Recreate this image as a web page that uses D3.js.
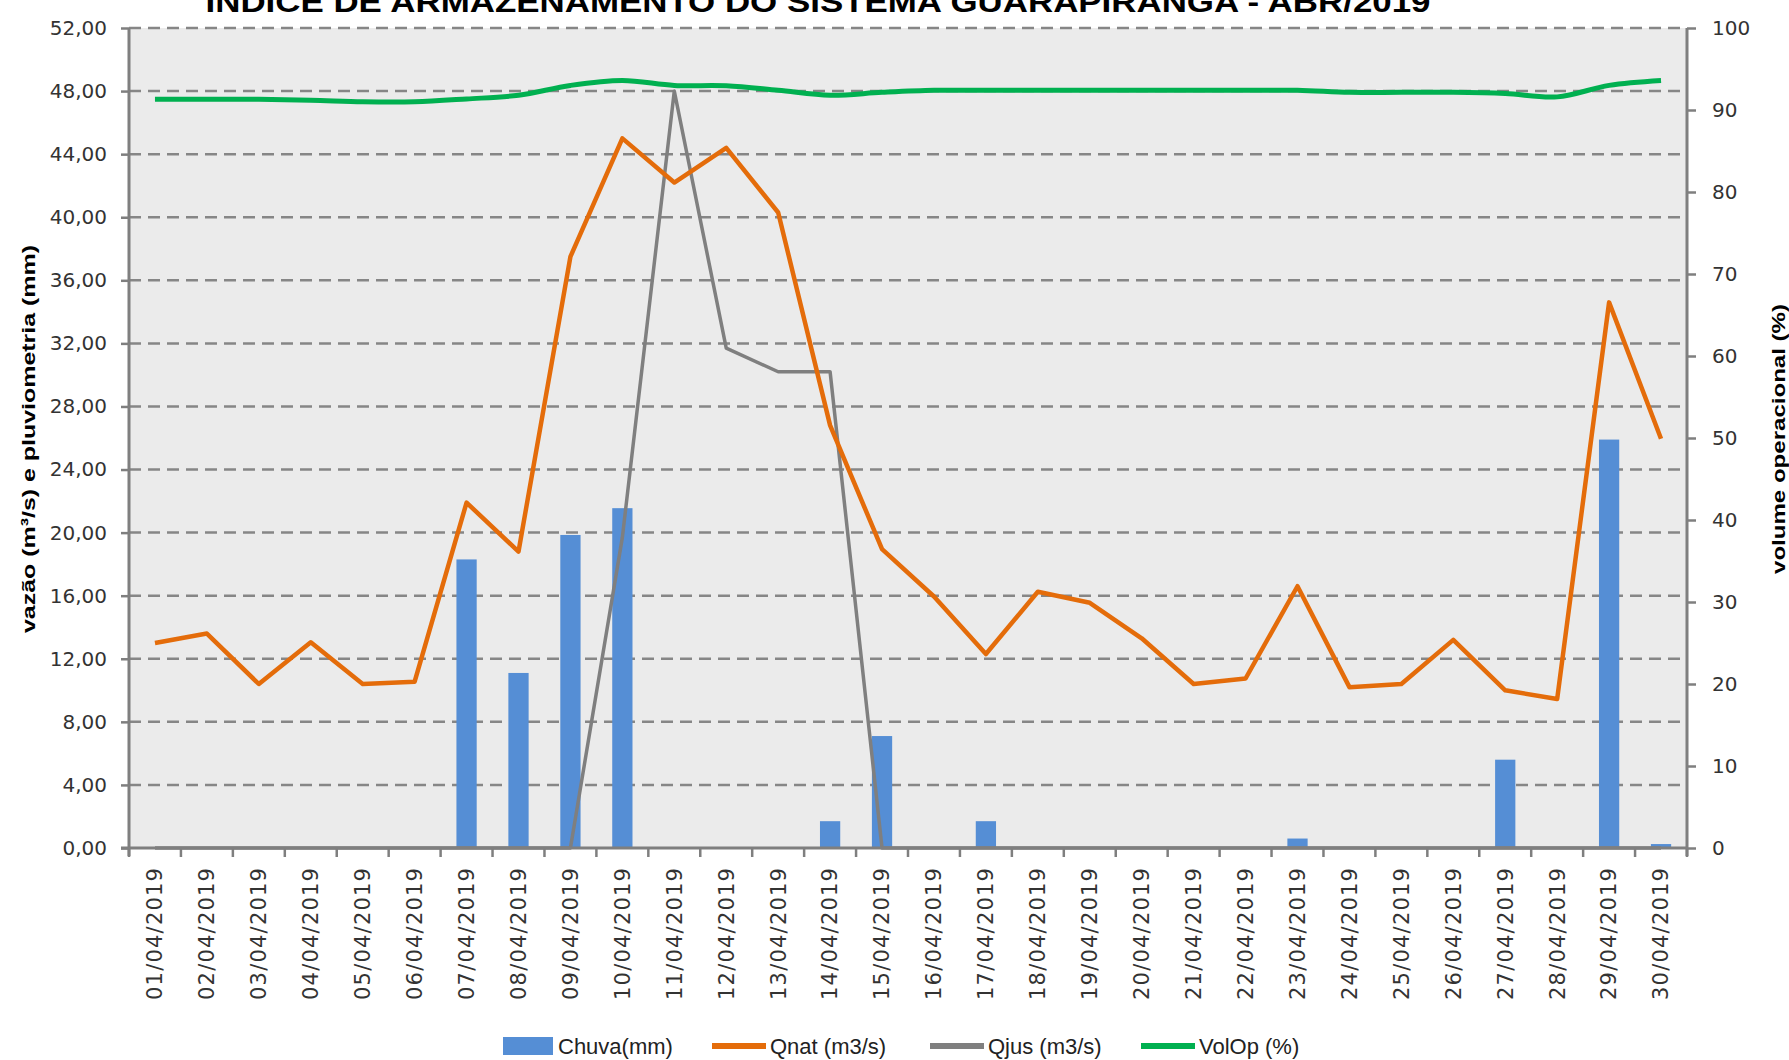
<!DOCTYPE html>
<html>
<head>
<meta charset="utf-8">
<script src="https://cdn.jsdelivr.net/npm/d3@7.9.0/dist/d3.min.js"></script>
<style>
  html, body { margin: 0; padding: 0; background: #fff; }
  svg { display: block; }
  .tick text { font-family: "DejaVu Sans", sans-serif; fill: #333; }
</style>
</head>
<body>
<svg id="chart" width="1789" height="1060"></svg>
<script>
// ---- data ----
const dias = d3.range(1, 31).map(d => String(d).padStart(2, '0') + '/04/2019');

// Chuva (mm) - bars, left axis
const chuva = [0, 0, 0, 0, 0, 0, 18.3, 11.1, 19.85, 21.55,
               0, 0, 0, 1.7, 7.1, 0, 1.7, 0, 0, 0,
               0, 0, 0.6, 0, 0, 0, 5.6, 0, 25.9, 0.25];

// Qnat (m3/s) - left axis
const qnat = [13.0, 13.6, 10.4, 13.05, 10.4, 10.55, 21.9, 18.8, 37.5, 45.0,
              42.2, 44.4, 40.3, 26.8, 18.95, 15.95, 12.3, 16.25, 15.55, 13.3,
              10.4, 10.75, 16.6, 10.2, 10.4, 13.2, 10.0, 9.45, 34.6, 25.95];

// Qjus (m3/s) - left axis
const qjus = [0, 0, 0, 0, 0, 0, 0, 0, 0, 19.7,
              48.0, 31.7, 30.2, 30.2, 0, 0, 0, 0, 0, 0,
              0, 0, 0, 0, 0, 0, 0, 0, 0, 0];

// VolOp (%) - right axis
const volop = [91.3, 91.3, 91.3, 91.2, 91.0, 91.0, 91.35, 91.8, 93.0, 93.6,
               93.0, 92.95, 92.4, 91.8, 92.15, 92.4, 92.4, 92.4, 92.4, 92.4,
               92.4, 92.4, 92.4, 92.15, 92.15, 92.15, 92.0, 91.6, 93.0, 93.6];

const leftTicks = d3.range(0, 53, 4);
const rightTicks = d3.range(0, 101, 10);

const titulo = 'ÍNDICE DE ARMAZENAMENTO DO SISTEMA GUARAPIRANGA - ABR/2019';
const legenda = [
  { nome: 'Chuva(mm)', cor: '#558ed5', tipo: 'bar' },
  { nome: 'Qnat (m3/s)', cor: '#e46c0a', tipo: 'line' },
  { nome: 'Qjus (m3/s)', cor: '#7f7f7f', tipo: 'line' },
  { nome: 'VolOp (%)', cor: '#00b050', tipo: 'line' },
];

// ---- layout ----
const svg = d3.select('#chart');
const plot = { left: 129, right: 1687, top: 28, bottom: 848 };
const axisGray = '#7f7f7f';

const x = d3.scaleBand().domain(dias).range([plot.left, plot.right]).padding(0);
const yL = d3.scaleLinear().domain([0, 52]).range([plot.bottom, plot.top]);
const yR = d3.scaleLinear().domain([0, 100]).range([plot.bottom, plot.top]);
const cx = d => x(d) + x.bandwidth() / 2;

// plot background
svg.append('rect')
  .attr('x', plot.left).attr('y', plot.top)
  .attr('width', plot.right - plot.left).attr('height', plot.bottom - plot.top)
  .attr('fill', '#ebebeb');

// dashed gridlines (left axis)
svg.append('g').selectAll('line')
  .data(leftTicks.filter(v => v > 0))
  .join('line')
  .attr('x1', plot.left).attr('x2', plot.right)
  .attr('y1', d => yL(d)).attr('y2', d => yL(d))
  .attr('stroke', '#868686').attr('stroke-width', 2.5)
  .attr('stroke-dasharray', '12 7');

// bars
const barW = x.bandwidth() * 0.39;
svg.append('g').selectAll('rect')
  .data(chuva.map((v, i) => ({ dia: dias[i], v })))
  .join('rect')
  .attr('x', d => cx(d.dia) - barW / 2)
  .attr('width', barW)
  .attr('y', d => yL(d.v))
  .attr('height', d => yL(0) - yL(d.v))
  .attr('fill', '#558ed5');

// axes lines
const gAxes = svg.append('g');
gAxes.append('line')
  .attr('x1', plot.left).attr('x2', plot.left)
  .attr('y1', plot.top).attr('y2', plot.bottom + 8)
  .attr('stroke', axisGray).attr('stroke-width', 3);
gAxes.append('line')
  .attr('x1', plot.right).attr('x2', plot.right)
  .attr('y1', plot.top).attr('y2', plot.bottom + 8)
  .attr('stroke', axisGray).attr('stroke-width', 3);

// left axis
const axL = svg.append('g')
  .attr('transform', `translate(${plot.left},0)`)
  .call(d3.axisLeft(yL).tickValues(leftTicks)
    .tickFormat(d => d.toFixed(2).replace('.', ','))
    .tickSize(8).tickPadding(14));
axL.select('.domain').remove();
axL.selectAll('.tick line').attr('stroke', axisGray).attr('stroke-width', 2.5);
axL.selectAll('.tick text').style('font-size', '20px');

// right axis
const axR = svg.append('g')
  .attr('transform', `translate(${plot.right},0)`)
  .call(d3.axisRight(yR).tickValues(rightTicks).tickSize(9).tickPadding(16));
axR.select('.domain').remove();
axR.selectAll('.tick line').attr('stroke', axisGray).attr('stroke-width', 2.5);
axR.selectAll('.tick text').style('font-size', '20px');

// x axis: ticks between categories, rotated labels
const step = x.step();
svg.append('g').selectAll('line')
  .data(d3.range(dias.length + 1))
  .join('line')
  .attr('x1', i => plot.left + i * step).attr('x2', i => plot.left + i * step)
  .attr('y1', plot.bottom).attr('y2', plot.bottom + 9)
  .attr('stroke', axisGray).attr('stroke-width', 2.5);

svg.append('g').selectAll('text')
  .data(dias)
  .join('text')
  .attr('transform', d => `translate(${cx(d)},${plot.bottom + 20}) rotate(-90)`)
  .attr('text-anchor', 'end')
  .attr('dy', '0.35em')
  .attr('textLength', 132).attr('lengthAdjust', 'spacing')
  .style('font-family', '"DejaVu Sans", sans-serif')
  .style('font-size', '21px')
  .attr('fill', '#333')
  .text(d => d);

// lines
const lineL = d3.line().x((d, i) => cx(dias[i])).y(d => yL(d));
const lineR = d3.line().x((d, i) => cx(dias[i])).y(d => yR(d)).curve(d3.curveCatmullRom.alpha(0.5));

svg.append('path').datum(qjus)
  .attr('d', lineL).attr('fill', 'none')
  .attr('stroke', '#7f7f7f').attr('stroke-width', 3.5).attr('stroke-linejoin', 'round');

svg.append('path').datum(qnat)
  .attr('d', lineL).attr('fill', 'none')
  .attr('stroke', '#e46c0a').attr('stroke-width', 4.5).attr('stroke-linejoin', 'round');

svg.append('path').datum(volop)
  .attr('d', lineR).attr('fill', 'none')
  .attr('stroke', '#00b050').attr('stroke-width', 5);

// x axis baseline on top of bars
svg.append('line')
  .attr('x1', plot.left - 8).attr('x2', plot.right)
  .attr('y1', plot.bottom).attr('y2', plot.bottom)
  .attr('stroke', axisGray).attr('stroke-width', 3);

// title (top half cut off, as in the picture)
svg.append('text')
  .attr('x', 818).attr('y', 12)
  .attr('text-anchor', 'middle')
  .attr('textLength', 1225).attr('lengthAdjust', 'spacingAndGlyphs')
  .style('font-family', '"Liberation Sans", Arial, sans-serif')
  .style('font-weight', 'bold').style('font-size', '30px')
  .attr('fill', '#000')
  .text(titulo);

// axis titles
svg.append('text')
  .attr('transform', 'translate(28,439) rotate(-90)')
  .attr('text-anchor', 'middle').attr('dy', '0.35em')
  .attr('textLength', 388).attr('lengthAdjust', 'spacingAndGlyphs')
  .style('font-family', '"Liberation Sans", Arial, sans-serif')
  .style('font-weight', 'bold').style('font-size', '19px')
  .text('vazão (m³/s) e pluviometria (mm)');

svg.append('text')
  .attr('transform', 'translate(1778,439) rotate(-90)')
  .attr('text-anchor', 'middle').attr('dy', '0.35em')
  .attr('textLength', 270).attr('lengthAdjust', 'spacingAndGlyphs')
  .style('font-family', '"Liberation Sans", Arial, sans-serif')
  .style('font-weight', 'bold').style('font-size', '19px')
  .text('volume operacional (%)');

// legend
const legX = [503, 712, 930, 1141];
const gLeg = svg.append('g').selectAll('g')
  .data(legenda)
  .join('g')
  .attr('transform', (d, i) => `translate(${legX[i]},1046)`);

gLeg.filter(d => d.tipo === 'bar').append('rect')
  .attr('x', 0).attr('y', -9).attr('width', 50).attr('height', 18)
  .attr('fill', d => d.cor);
gLeg.filter(d => d.tipo === 'line').append('line')
  .attr('x1', 0).attr('x2', 54).attr('y1', 0).attr('y2', 0)
  .attr('stroke', d => d.cor).attr('stroke-width', 6);
gLeg.append('text')
  .attr('x', d => d.tipo === 'bar' ? 55 : 58)
  .attr('dy', '0.35em')
  .style('font-family', '"Liberation Sans Narrow", "Liberation Sans", Arial, sans-serif')
  .style('font-size', '22px')
  .attr('fill', '#222')
  .text(d => d.nome);
</script>
</body>
</html>
